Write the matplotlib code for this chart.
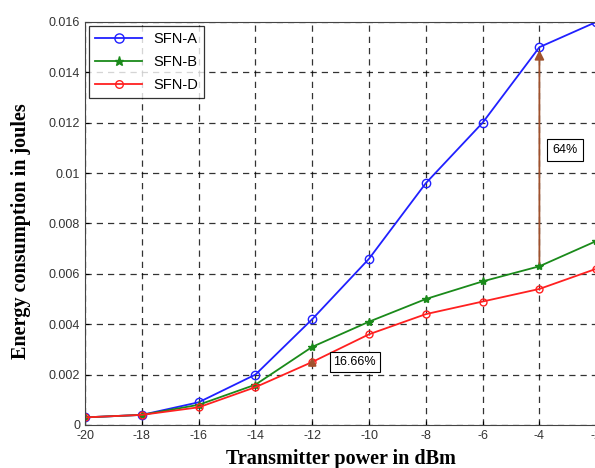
import numpy as np
import matplotlib
matplotlib.use('Agg')
import matplotlib.pyplot as plt

# data
power_dbm = [-20, -18, -16, -14, -12, -10, -8, -6, -4, -2]
sfn_a = [0.0003, 0.0004, 0.0009, 0.0020, 0.0042, 0.0066, 0.0096, 0.0120, 0.0150, 0.0160]
sfn_b = [0.0003, 0.0004, 0.0008, 0.0016, 0.0031, 0.0041, 0.0050, 0.0057, 0.0063, 0.0073]
sfn_d = [0.0003, 0.0004, 0.0007, 0.0015, 0.0025, 0.0036, 0.0044, 0.0049, 0.0054, 0.0062]
yticks = [0, 0.002, 0.004, 0.006, 0.008, 0.01, 0.012, 0.014, 0.016]
ytick_labels = ['0', '0.002', '0.004', '0.006', '0.008', '0.01', '0.012', '0.014', '0.016']

plt.rcParams['font.family'] = ['Liberation Sans', 'DejaVu Sans']

fig = plt.figure(figsize=(5.95, 4.68), dpi=100)
ax = fig.add_axes([0.143, 0.092, 0.859, 0.861])

ax.plot(power_dbm, sfn_a, '-o', color='#2020ff', mfc='none', mec='#2020ff', ms=6, lw=1.3, label='SFN-A')
ax.plot(power_dbm, sfn_b, '-*', color='#1a8a1a', ms=6, lw=1.3, label='SFN-B')
ax.plot(power_dbm, sfn_d, '-o', color='#ff2020', mfc='none', mec='#ff2020', ms=5, lw=1.3, label='SFN-D')

ax.set_xlim(-20, -2)
ax.set_ylim(0, 0.016)
ax.set_xticks(power_dbm)
ax.set_xticklabels([str(v) for v in power_dbm])
ax.set_yticks(yticks)
ax.set_yticklabels(ytick_labels)
ax.tick_params(labelsize=9, direction='in', length=3, labelcolor='#333333')
ax.grid(True, color='black', linestyle=(0, (5, 4)), lw=0.9, alpha=0.8)
for s in ax.spines.values():
    s.set_color('#444444')

ax.set_xlabel('Transmitter power in dBm', family=['Liberation Serif'], fontweight='bold', fontsize=14.5, labelpad=5)
ax.set_ylabel('Energy consumption in joules', family=['Liberation Serif'], fontweight='bold', fontsize=14.5)
ax.yaxis.set_label_coords(-0.105, 0.48)

# annotations
arrow_col = '#a0522d'
ax.annotate('', xy=(-4, sfn_a[8]), xytext=(-4, sfn_b[8]),
            arrowprops=dict(arrowstyle='-|>', color=arrow_col, lw=1.3, mutation_scale=14))
ax.annotate('', xy=(-12, sfn_b[4] - 0.0003), xytext=(-12, sfn_d[4]),
            arrowprops=dict(arrowstyle='-|>', color=arrow_col, lw=1.3, mutation_scale=12))
ax.text(-3.1, 0.0109, '64%', fontsize=9, ha='center', va='center',
        bbox=dict(boxstyle='square,pad=0.4', fc='white', ec='black', lw=0.8))
ax.text(-10.5, 0.0025, '16.66%', fontsize=9, ha='center', va='center',
        bbox=dict(boxstyle='square,pad=0.3', fc='white', ec='black', lw=0.8))

leg = ax.legend(loc='upper left', fontsize=10.5, frameon=True, fancybox=False,
                edgecolor='black', borderpad=0.4, handlelength=3.2, labelspacing=0.6,
                borderaxespad=0.3, markerscale=1.1)
leg.get_frame().set_linewidth(0.9)

fig.savefig('out.png', dpi=100)
